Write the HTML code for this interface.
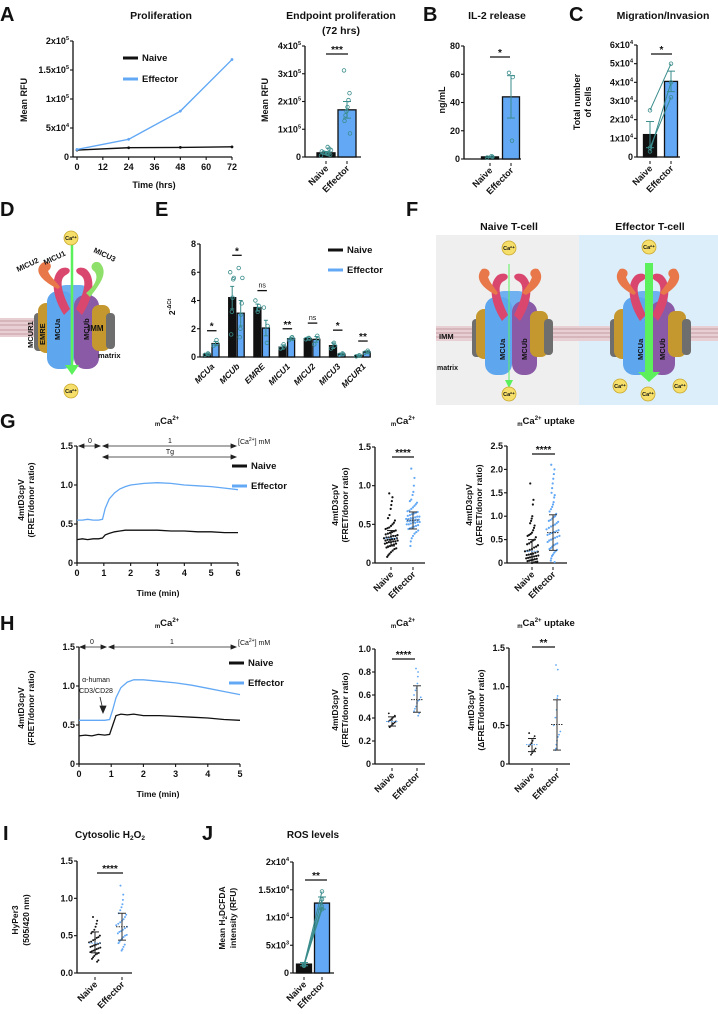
<!DOCTYPE html>
<html><head><meta charset="utf-8">
<style>
html,body{margin:0;padding:0;background:#fff;}
svg{display:block;font-family:"Liberation Sans",sans-serif;}
text{font-weight:bold;fill:#111;}
</style></head>
<body>
<svg id="fig" width="718" height="1014" viewBox="0 0 718 1014" xmlns="http://www.w3.org/2000/svg">
<defs>
<g id="complex">
  <rect x="-38" y="-14" width="11" height="38" rx="4" fill="#6e6e6e"/>
  <rect x="-34" y="-24" width="24" height="50" rx="8" fill="#c4982e"/>
  <rect x="-18" y="-42" width="38" height="30" rx="12" fill="#6fb0f0"/>
  <rect x="-25" y="-36" width="27" height="78" rx="11" fill="#5ea6ee"/>
  <rect x="2" y="-32" width="25" height="74" rx="11" fill="#8a5aa6"/>
  <rect x="20" y="-22" width="18" height="46" rx="7" fill="#c4982e"/>
  <rect x="34" y="-14" width="9" height="36" rx="4" fill="#6e6e6e"/>
  <path d="M-8,-12 C-20,-30 -22,-50 -12,-58 C-4,-62 2,-56 -6,-52 C-14,-48 -10,-34 -2,-18 Z" fill="#d9476e"/>
  <path d="M10,-12 C22,-30 24,-50 14,-58 C6,-62 0,-56 8,-52 C16,-48 12,-34 4,-18 Z" fill="#d9476e"/>
</g>
</defs>
<!-- Panel letters -->
<text x="0" y="21" font-size="20">A</text>
<text x="423" y="21" font-size="20">B</text>
<text x="569" y="21" font-size="20">C</text>
<text x="0" y="216" font-size="20">D</text>
<text x="155" y="216" font-size="20">E</text>
<text x="406" y="216" font-size="20">F</text>
<text x="0" y="428" font-size="20">G</text>
<text x="0" y="630" font-size="20">H</text>
<text x="3" y="840" font-size="20">I</text>
<text x="202" y="840" font-size="20">J</text>

<!-- Titles -->
<text x="161" y="19" font-size="10.5" text-anchor="middle">Proliferation</text>
<text x="341" y="19" font-size="10.5" text-anchor="middle">Endpoint proliferation</text>
<text x="341" y="34" font-size="10.5" text-anchor="middle">(72 hrs)</text>
<text x="497" y="19" font-size="10.5" text-anchor="middle">IL-2 release</text>
<text x="663" y="19" font-size="10.5" text-anchor="middle">Migration/Invasion</text>
<text x="509" y="230" font-size="10.5" text-anchor="middle">Naive T-cell</text>
<text x="650" y="230" font-size="10.5" text-anchor="middle">Effector T-cell</text>
<text x="167" y="424" font-size="9.5" text-anchor="middle"><tspan font-size="6" dy="2">m</tspan><tspan dy="-2">Ca</tspan><tspan font-size="6" dy="-4">2+</tspan></text>
<text x="403" y="424" font-size="9.5" text-anchor="middle"><tspan font-size="6" dy="2">m</tspan><tspan dy="-2">Ca</tspan><tspan font-size="6" dy="-4">2+</tspan></text>
<text x="546" y="424" font-size="9.5" text-anchor="middle"><tspan font-size="6" dy="2">m</tspan><tspan dy="-2">Ca</tspan><tspan font-size="6" dy="-4">2+</tspan><tspan dy="4"> uptake</tspan></text>
<text x="167" y="626" font-size="9.5" text-anchor="middle"><tspan font-size="6" dy="2">m</tspan><tspan dy="-2">Ca</tspan><tspan font-size="6" dy="-4">2+</tspan></text>
<text x="403" y="626" font-size="9.5" text-anchor="middle"><tspan font-size="6" dy="2">m</tspan><tspan dy="-2">Ca</tspan><tspan font-size="6" dy="-4">2+</tspan></text>
<text x="546" y="626" font-size="9.5" text-anchor="middle"><tspan font-size="6" dy="2">m</tspan><tspan dy="-2">Ca</tspan><tspan font-size="6" dy="-4">2+</tspan><tspan dy="4"> uptake</tspan></text>
<text x="110" y="838" font-size="10" text-anchor="middle">Cytosolic H<tspan font-size="6.5" dy="2">2</tspan><tspan dy="-2">O</tspan><tspan font-size="6.5" dy="2">2</tspan></text>
<text x="313" y="838" font-size="10" text-anchor="middle">ROS levels</text>

<!-- Axis titles -->
<text transform="translate(27,100) rotate(-90)" font-size="9" text-anchor="middle">Mean RFU</text>
<text x="154" y="188" font-size="9" text-anchor="middle">Time (hrs)</text>
<text transform="translate(268,100) rotate(-90)" font-size="9" text-anchor="middle">Mean RFU</text>
<text transform="translate(445,100) rotate(-90)" font-size="9" text-anchor="middle">ng/mL</text>
<text transform="translate(580,102) rotate(-90)" font-size="9" text-anchor="middle">Total number</text>
<text transform="translate(591,102) rotate(-90)" font-size="9" text-anchor="middle">of cells</text>
<text transform="translate(175,307) rotate(-90)" font-size="8.5" text-anchor="middle">2<tspan font-size="5.5" dy="-4">-ΔCt</tspan></text>
<g font-size="8.5" text-anchor="middle">
<text transform="translate(24,500) rotate(-90)">4mtD3cpV</text>
<text transform="translate(34,500) rotate(-90)">(FRET/donor ratio)</text>
<text x="158" y="596">Time (min)</text>
<text transform="translate(338,505) rotate(-90)">4mtD3cpV</text>
<text transform="translate(348,505) rotate(-90)">(FRET/donor ratio)</text>
<text transform="translate(472,505) rotate(-90)">4mtD3cpV</text>
<text transform="translate(482,505) rotate(-90)">(ΔFRET/donor ratio)</text>
<text transform="translate(24,708) rotate(-90)">4mtD3cpV</text>
<text transform="translate(34,708) rotate(-90)">(FRET/donor ratio)</text>
<text x="158" y="797">Time (min)</text>
<text transform="translate(338,710) rotate(-90)">4mtD3cpV</text>
<text transform="translate(348,710) rotate(-90)">(FRET/donor ratio)</text>
<text transform="translate(474,710) rotate(-90)">4mtD3cpV</text>
<text transform="translate(484,710) rotate(-90)">(ΔFRET/donor ratio)</text>
<text transform="translate(18,920) rotate(-90)">HyPer3</text>
<text transform="translate(29,920) rotate(-90)">(505/420 nm)</text>
<text transform="translate(225,918) rotate(-90)">Mean H<tspan font-size="6" dy="2">2</tspan><tspan dy="-2">DCFDA</tspan></text>
<text transform="translate(236,918) rotate(-90)">intensity (RFU)</text>
</g>

<!-- Panel D diagram -->
<g>
  <rect x="0" y="318" width="112" height="19" fill="#e8cfd3"/>
  <g stroke="#b88a93" stroke-width="0.8"><line x1="0" y1="321" x2="112" y2="321"/><line x1="0" y1="325" x2="112" y2="325"/><line x1="0" y1="330" x2="112" y2="330"/><line x1="0" y1="334" x2="112" y2="334"/></g>
  <g transform="translate(72,327)">
    <use href="#complex"/>
    <path d="M-14,-38 C-28,-45 -40,-55 -30,-64 C-22,-68 -18,-60 -24,-56 C-22,-50 -16,-46 -12,-40 Z" fill="#e8784a"/>
    <path d="M18,-30 C30,-45 36,-55 28,-64 C22,-68 16,-60 22,-56 C28,-50 22,-40 14,-34 Z" fill="#8fe06a"/>
  </g>
  <text transform="translate(33,348) rotate(-90)" font-size="7.5" fill="#222">MCUR1</text>
  <text transform="translate(45,345) rotate(-90)" font-size="7.5">EMRE</text>
  <text transform="translate(60,340) rotate(-90)" font-size="7.5">MCUa</text>
  <text transform="translate(89,340) rotate(-90)" font-size="7.5">MCUb</text>
  <text x="88" y="331" font-size="8">IMM</text>
  <text x="98" y="358" font-size="7.5">matrix</text>
  <text transform="translate(18,272) rotate(-25)" font-size="7.5">MICU2</text>
  <text transform="translate(45,265) rotate(-25)" font-size="7.5">MICU1</text>
  <text transform="translate(93,252) rotate(25)" font-size="7.5">MICU3</text>
  <line x1="72" y1="245" x2="72" y2="366" stroke="#5cf05c" stroke-width="2.5"/>
  <polygon points="65,365 79,365 72,375" fill="#5cf05c"/>
  <circle cx="71" cy="238" r="7" fill="#f5de6a" stroke="#c9a92e" stroke-width="0.8"/>
  <text x="71" y="240" font-size="5.5" text-anchor="middle">Ca²⁺</text>
  <circle cx="71" cy="391" r="7" fill="#f5de6a" stroke="#c9a92e" stroke-width="0.8"/>
  <text x="71" y="393" font-size="5.5" text-anchor="middle">Ca²⁺</text>
</g>

<!-- Panel F diagram -->
<g>
  <rect x="436" y="235" width="143" height="170" fill="#efefef"/>
  <rect x="579" y="235" width="139" height="170" fill="#dceefa"/>
  <rect x="436" y="326" width="282" height="15" fill="#e8cfd3"/>
  <g stroke="#b88a93" stroke-width="0.8"><line x1="436" y1="329" x2="718" y2="329"/><line x1="436" y1="333" x2="718" y2="333"/><line x1="436" y1="337" x2="718" y2="337"/></g>
  <g transform="translate(510,333)"><use href="#complex"/>
    <path d="M-14,-38 C-28,-45 -36,-55 -28,-64 C-22,-66 -18,-60 -22,-56 C-20,-50 -16,-46 -12,-40 Z" fill="#e8784a"/>
    <path d="M16,-38 C28,-45 36,-55 28,-64 C22,-66 18,-60 22,-56 C20,-50 16,-46 12,-40 Z" fill="#e8784a"/></g>
  <g transform="translate(648,333)"><use href="#complex"/>
    <path d="M-14,-38 C-28,-45 -36,-55 -28,-64 C-22,-66 -18,-60 -22,-56 C-20,-50 -16,-46 -12,-40 Z" fill="#e8784a"/>
    <path d="M16,-38 C28,-45 36,-55 28,-64 C22,-66 18,-60 22,-56 C20,-50 16,-46 12,-40 Z" fill="#e8784a"/></g>
  <text transform="translate(505,360) rotate(-90)" font-size="7.5">MCUa</text>
  <text transform="translate(527,360) rotate(-90)" font-size="7.5">MCUb</text>
  <text transform="translate(643,360) rotate(-90)" font-size="7.5">MCUa</text>
  <text transform="translate(665,360) rotate(-90)" font-size="7.5">MCUb</text>
  <text x="439" y="339" font-size="7.5">IMM</text>
  <text x="437" y="370" font-size="7">matrix</text>
  <line x1="509" y1="264" x2="509" y2="382" stroke="#5cf05c" stroke-width="1"/>
  <polygon points="505,380 513,380 509,388" fill="#5cf05c"/>
  <rect x="645" y="263" width="8" height="110" fill="#5cf05c"/>
  <polygon points="638,372 660,372 649,382" fill="#5cf05c"/>
  <g font-size="5.5" text-anchor="middle">
  <circle cx="509" cy="248" r="7" fill="#f5de6a" stroke="#c9a92e" stroke-width="0.8"/><text x="509" y="250">Ca²⁺</text>
  <circle cx="509" cy="394" r="7" fill="#f5de6a" stroke="#c9a92e" stroke-width="0.8"/><text x="509" y="396">Ca²⁺</text>
  <circle cx="649" cy="247" r="7" fill="#f5de6a" stroke="#c9a92e" stroke-width="0.8"/><text x="649" y="249">Ca²⁺</text>
  <circle cx="620" cy="386" r="7" fill="#f5de6a" stroke="#c9a92e" stroke-width="0.8"/><text x="620" y="388">Ca²⁺</text>
  <circle cx="648" cy="394" r="7" fill="#f5de6a" stroke="#c9a92e" stroke-width="0.8"/><text x="648" y="396">Ca²⁺</text>
  <circle cx="680" cy="386" r="7" fill="#f5de6a" stroke="#c9a92e" stroke-width="0.8"/><text x="680" y="388">Ca²⁺</text>
  </g>
</g>

<!-- G/H arrow annotations -->
<g stroke="#222" stroke-width="0.8" fill="#222">
  <line x1="79" y1="446" x2="100" y2="446"/><polygon points="79,446 84,444 84,448"/><polygon points="100,446 95,444 95,448"/>
  <line x1="103" y1="446" x2="236" y2="446"/><polygon points="103,446 108,444 108,448"/><polygon points="236,446 231,444 231,448"/>
  <line x1="103" y1="457" x2="236" y2="457"/><polygon points="103,457 108,455 108,459"/><polygon points="236,457 231,455 231,459"/>
</g>
<g font-size="7">
<text x="90" y="443" text-anchor="middle" style="font-weight:normal">0</text>
<text x="170" y="443" text-anchor="middle" style="font-weight:normal">1</text>
<text x="170" y="454" text-anchor="middle" style="font-weight:normal">Tg</text>
<text x="238" y="444" style="font-weight:normal">[Ca<tspan font-size="5" dy="-3">2+</tspan><tspan dy="3">] mM</tspan></text>
</g>
<g stroke="#222" stroke-width="0.8" fill="#222">
  <line x1="80" y1="647" x2="106" y2="647"/><polygon points="80,647 85,645 85,649"/><polygon points="106,647 101,645 101,649"/>
  <line x1="109" y1="647" x2="236" y2="647"/><polygon points="109,647 114,645 114,649"/><polygon points="236,647 231,645 231,649"/>
  <line x1="100" y1="697" x2="103" y2="710"/><polygon points="103,713 100,706 106,706"/>
</g>
<g font-size="7">
<text x="92" y="644" text-anchor="middle" style="font-weight:normal">0</text>
<text x="172" y="644" text-anchor="middle" style="font-weight:normal">1</text>
<text x="238" y="645" style="font-weight:normal">[Ca<tspan font-size="5" dy="-3">2+</tspan><tspan dy="3">] mM</tspan></text>
<text x="96" y="682" text-anchor="middle" style="font-weight:normal">α-human</text>
<text x="96" y="693" text-anchor="middle" style="font-weight:normal">CD3/CD28</text>
</g>

<g id="plots"></g>
</svg>
<script>
// ---------- data ----------
const aTimes=[0,24,48,72];
const aNaive=[12000,16000,16500,17500];
const aEffector=[13000,30500,79000,168000];
const aTicksX=[0,12,24,36,48,60,72];

const a2Means=[15000,170000];
const a2Err=[5000,30000];
const a2NaiveDots=[5000,8000,10000,12000,14000,16000,20000,25000,30000,36000];
const a2EffDots=[312000,230000,205000,180000,165000,150000,130000,85000];

const bMeans=[1.5,44];
const bErr=[0.5,15];
const bEffDots=[61,58,13];
const bNaiveDots=[1,1.5,2];

const cNaive=[25000,5000,3000];
const cEffector=[50000,32000,40000];
const cMeans=[12000,40500];
const cErr=[7000,5500];

const eCats=['MCUa','MCUb','EMRE','MICU1','MICU2','MICU3','MCUR1'];
const eNaive=[0.2,4.2,3.5,0.7,1.3,0.8,0.1];
const eEffector=[0.95,3.1,2.05,1.3,1.25,0.2,0.35];
const eNaiveErr=[0.05,0.8,0.25,0.15,0.1,0.2,0.03];
const eEffErr=[0.15,0.9,0.55,0.1,0.2,0.05,0.08];
const eSigText=['*','*','ns','**','ns','*','**'];
const eSigLevel=[1.86,7.2,4.7,2.0,2.4,1.9,1.13];
const eNaiveDots=[[0.15,0.2,0.25],[6.0,5.6,5.5,4.2,3.2,1.6],[4.0,3.6,3.4,3.2],[0.6,0.75,0.9],[1.25,1.3,1.35],[0.6,0.8,1.0],[0.05,0.1,0.12]];
const eEffDots=[[0.8,0.95,1.2],[6.3,5.6,3.8,3.0,2.0,1.4],[3.5,2.2,1.0],[1.2,1.3,1.4],[0.9,1.3,1.5],[0.15,0.2,0.25],[0.3,0.35,0.45]];

const gTimes=[0,0.2,0.4,0.6,0.8,0.95,1.05,1.2,1.4,1.6,1.8,2,2.5,3,3.5,4,4.5,5,5.5,6];
const gNaive=[0.3,0.31,0.3,0.31,0.31,0.32,0.36,0.38,0.4,0.41,0.42,0.42,0.42,0.42,0.41,0.41,0.4,0.4,0.39,0.39];
const gEffector=[0.55,0.55,0.56,0.55,0.55,0.56,0.7,0.82,0.9,0.95,0.98,1.0,1.02,1.03,1.02,1.0,0.99,0.98,0.96,0.94];

const hTimes=[0,0.2,0.4,0.6,0.8,0.95,1.05,1.15,1.3,1.5,1.7,2,2.5,3,3.5,4,4.5,5];
const hNaive=[0.36,0.37,0.36,0.38,0.37,0.38,0.5,0.62,0.64,0.63,0.64,0.62,0.62,0.61,0.6,0.59,0.57,0.56];
const hEffector=[0.56,0.56,0.56,0.56,0.56,0.57,0.7,0.85,0.98,1.05,1.08,1.08,1.06,1.04,1.01,0.97,0.93,0.89];

const g1Naive=[0.9,0.85,0.8,0.75,0.7,0.62,0.58,0.55,0.52,0.5,0.48,0.46,0.45,0.44,0.42,0.41,0.4,0.39,0.38,0.37,0.36,0.35,0.35,0.34,0.33,0.33,0.32,0.32,0.31,0.31,0.3,0.3,0.29,0.29,0.28,0.28,0.27,0.27,0.26,0.25,0.25,0.24,0.23,0.22,0.21,0.2,0.19,0.18,0.16,0.14,0.12,0.1,0.08];
const g1Eff=[1.22,1.1,1.0,0.92,0.88,0.82,0.8,0.78,0.76,0.74,0.72,0.7,0.68,0.67,0.66,0.65,0.64,0.63,0.62,0.61,0.6,0.6,0.59,0.58,0.58,0.57,0.57,0.56,0.56,0.55,0.55,0.54,0.54,0.53,0.53,0.52,0.52,0.51,0.5,0.5,0.49,0.48,0.47,0.46,0.45,0.44,0.42,0.4,0.38,0.35,0.32,0.28,0.22];
const g1Mean=[0.32,0.555], g1Lo=[0.22,0.44], g1Hi=[0.42,0.66];

const g2Naive=[1.7,1.35,1.25,1.0,0.95,0.9,0.85,0.8,0.75,0.7,0.65,0.62,0.6,0.58,0.55,0.5,0.48,0.45,0.42,0.4,0.38,0.35,0.33,0.3,0.28,0.26,0.25,0.24,0.22,0.2,0.19,0.18,0.17,0.16,0.15,0.14,0.13,0.12,0.11,0.1,0.09,0.08,0.07,0.06,0.05,0.04,0.03,0.02,0.01,0.0];
const g2Eff=[2.1,2.0,1.9,1.8,1.7,1.6,1.5,1.45,1.4,1.3,1.25,1.2,1.15,1.1,1.05,1.0,0.98,0.95,0.92,0.9,0.88,0.85,0.82,0.8,0.78,0.75,0.72,0.7,0.68,0.66,0.64,0.62,0.6,0.58,0.56,0.54,0.52,0.5,0.48,0.45,0.42,0.4,0.38,0.35,0.32,0.3,0.28,0.25,0.22,0.18,0.15,0.1,0.05,0.02];
const g2Mean=[0.25,0.65], g2Lo=[0.0,0.27], g2Hi=[0.5,1.03];

const h1Naive=[0.44,0.42,0.41,0.4,0.39,0.38,0.37,0.37,0.36,0.35,0.34,0.33,0.32];
const h1Eff=[0.83,0.8,0.76,0.7,0.66,0.64,0.6,0.58,0.56,0.55,0.53,0.5,0.48,0.46,0.44,0.42];
const h1Mean=[0.37,0.56], h1Lo=[0.33,0.45], h1Hi=[0.41,0.68];

const h2Naive=[0.4,0.36,0.33,0.3,0.27,0.25,0.23,0.2,0.18,0.16,0.14,0.12];
const h2Eff=[1.28,1.22,0.88,0.85,0.7,0.6,0.5,0.42,0.38,0.35,0.3,0.25,0.2,0.18];
const h2Mean=[0.25,0.51], h2Lo=[0.16,0.18], h2Hi=[0.33,0.83];

const iNaive=[0.75,0.7,0.66,0.62,0.58,0.55,0.53,0.5,0.48,0.47,0.45,0.44,0.42,0.41,0.4,0.39,0.38,0.37,0.36,0.35,0.34,0.33,0.32,0.31,0.3,0.29,0.28,0.27,0.26,0.25,0.23,0.21,0.19,0.17,0.15];
const iEff=[1.17,1.05,0.98,0.92,0.88,0.84,0.8,0.78,0.75,0.72,0.7,0.68,0.66,0.64,0.62,0.6,0.58,0.56,0.55,0.53,0.51,0.5,0.48,0.46,0.44,0.42,0.4,0.38,0.35,0.32,0.3];
const iMean=[0.4,0.62], iLo=[0.27,0.44], iHi=[0.55,0.8];

const jNaive=[1500,1400,1600,1300];
const jEffector=[14700,13300,12000,11500];
const jMeans=[1600,12600];
const jErr=[300,1100];

const groupLabels=['Naive','Effector'];

// ---------- helpers ----------
const NS='http://www.w3.org/2000/svg';
const root=document.getElementById('plots');
const BLUE='#62a8f5', DARK='#111', TEAL='#3a8c8c';
function lin(d0,d1,r0,r1){return v=>r0+(v-d0)*(r1-r0)/(d1-d0);}
function mk(tag,attrs,parent){const e=document.createElementNS(NS,tag);for(const k in attrs)e.setAttribute(k,attrs[k]);(parent||root).appendChild(e);return e;}
function tickText(x,y,label,anchor,size){
  const t=mk('text',{x:x,y:y,'font-size':size||9,'text-anchor':anchor||'end'});
  
  
  const s=String(label);
  if(s.indexOf('^')>=0){const p=s.split('^');t.textContent=p[0];const sp=mk('tspan',{'font-size':5.5,dy:-4},t);sp.textContent=p[1];}
  else t.textContent=s;
  return t;
}
function yAxis(name,x,yTop,yBot,scale,ticks,labels){
  const g=mk('g',{});
  
  
  mk('line',{x1:x,y1:yTop,x2:x,y2:yBot,stroke:DARK,'stroke-width':1.3},g);
  ticks.forEach((v,i)=>{const y=scale(v);mk('line',{x1:x-3,y1:y,x2:x,y2:y,stroke:DARK,'stroke-width':1.1},g);tickText(x-4,y+3,labels?labels[i]:v,'end');});
}
function xBase(name,x0,x1,y){
  const l=mk('line',{x1:x0,y1:y,x2:x1,y2:y,stroke:DARK,'stroke-width':1.3});
  
  
}
function catLabels(xs,y,labels,italic){
  xs.forEach((x,i)=>{
    const t=mk('text',{transform:`translate(${x+3},${y}) rotate(-45)`,'font-size':9,'text-anchor':'end','font-style':italic?'italic':'normal'});
    
    
    t.textContent=labels[i];
    mk('line',{x1:x,y1:y-8,x2:x,y2:y-5,stroke:DARK,'stroke-width':1});
  });
}
function sig(x0,x1,y,str){
  const l=mk('line',{x1:x0,y1:y,x2:x1,y2:y,stroke:DARK,'stroke-width':1.3});
  
  
  const t=mk('text',{x:(x0+x1)/2,y:y-(str==='ns'?3:1),'font-size':str==='ns'?7:10,'text-anchor':'middle'});
  if(str==='ns')t.setAttribute('style','font-weight:normal');
  
  
  t.textContent=str;
}
function bar(cx,w,y0,y,fill,name){
  const r=mk('rect',{x:cx-w/2,y:Math.min(y,y0),width:w,height:Math.abs(y0-y),fill:fill,stroke:DARK,'stroke-width':1.3});
  
  
}
function errBar(cx,yLo,yHi,cap,color,name){
  const g=mk('g',{stroke:color||DARK,'stroke-width':1});
  
  
  mk('line',{x1:cx,y1:yLo,x2:cx,y2:yHi},g);
  mk('line',{x1:cx-cap,y1:yHi,x2:cx+cap,y2:yHi},g);
  mk('line',{x1:cx-cap,y1:yLo,x2:cx+cap,y2:yLo},g);
}
function openDot(x,y,name){
  const c=mk('circle',{cx:x,cy:y,r:1.8,fill:'none',stroke:TEAL,'stroke-width':0.8});
  
  
}
function jitter(i,w){return (((i*37)%13)-6)/6*w;}
function scatterPanel(p){
  const ys=lin(0,p.max,p.y0,p.yTop);
  yAxis(p.name+'-y-axis',p.ax,p.yTop,p.y0,ys,p.ticks,p.tickLabels);
  xBase(p.name+'-x-axis',p.ax,p.axEnd,p.y0);
  const sets=[p.naive,p.eff], cols=[DARK,BLUE];
  sets.forEach((arr,k)=>{
    arr.forEach((v,i)=>{
      const d=Math.abs(v-p.mean[k]);
      const w=p.jw*Math.max(0.25,1-d/(p.max*0.35));
      const c=mk('circle',{cx:p.xs[k]+jitter(i,w),cy:ys(v),r:p.r||1.1,fill:cols[k]});
      
      
    });
  });
  [0,1].forEach(k=>{
    errBar(p.xs[k],ys(p.lo[k]),ys(p.hi[k]),4,k?'#333':'#222',k?'effector-sd':'naive-sd');
    const m=mk('line',{x1:p.xs[k]-6,y1:ys(p.mean[k]),x2:p.xs[k]+6,y2:ys(p.mean[k]),stroke:k?'#333':BLUE,'stroke-width':1,'stroke-dasharray':'1.5,1'});
    
    
  });
  catLabels(p.xs,p.y0+12,groupLabels,false);
  sig(p.sig[0],p.sig[1],p.sig[2],p.sig[3]);
}
function tracePanel(p){
  const xs=lin(0,p.tmax,p.ax,p.axEnd), ys=lin(0,1.5,p.y0,p.yTop);
  yAxis(p.name+'-y-axis',p.ax,p.yTop,p.y0,ys,[0,0.5,1.0,1.5],['0','0.5','1.0','1.5']);
  xBase(p.name+'-x-axis',p.ax,p.axEnd,p.y0);
  for(let t=0;t<=p.tmax;t++){mk('line',{x1:xs(t),y1:p.y0,x2:xs(t),y2:p.y0+3,stroke:DARK,'stroke-width':1.1});tickText(xs(t),p.y0+13,t,'middle');}
  [[p.naive,DARK,'naive-trace'],[p.eff,BLUE,'effector-trace']].forEach(s=>{
    const d=p.times.map((t,i)=>(i?'L':'M')+xs(t).toFixed(1)+','+ys(s[0][i]).toFixed(1)).join(' ');
    const path=mk('path',{d:d,fill:'none',stroke:s[1],'stroke-width':1.3});
    
    
  });
  legend(p.legX,p.legY,20);
}
function legend(x,y,gap){
  [['Naive',DARK],['Effector',BLUE]].forEach((s,i)=>{
    const l=mk('line',{x1:x,y1:y+i*gap-3,x2:x+15,y2:y+i*gap-3,stroke:s[1],'stroke-width':3});
    
    
    const t=mk('text',{x:x+19,y:y+i*gap,'font-size':9.5});
    
    
    t.textContent=s[0];
  });
}

// ---------- Panel A line ----------
(function(){
  const xs=lin(0,72,77,232), ys=lin(0,2e5,157,41);
  yAxis('a-y-axis',73,41,157,ys,[0,5e4,1e5,1.5e5,2e5],['0','5x10^4','1x10^5','1.5x10^5','2x10^5']);
  xBase('a-x-axis',73,232,157);
  aTicksX.forEach(t=>{mk('line',{x1:xs(t),y1:157,x2:xs(t),y2:160,stroke:DARK,'stroke-width':1.1});tickText(xs(t),170,t,'middle');});
  [[aNaive,DARK,'naive-line'],[aEffector,BLUE,'effector-line']].forEach(s=>{
    const d=aTimes.map((t,i)=>(i?'L':'M')+xs(t)+','+ys(s[0][i])).join(' ');
    const p=mk('path',{d:d,fill:'none',stroke:s[1],'stroke-width':1.4});
    
    
    aTimes.forEach((t,i)=>{const c=mk('circle',{cx:xs(t),cy:ys(s[0][i]),r:1.4,fill:s[1]});
      
      });
  });
  legend(123,61,21);
})();

// ---------- Panel A bar ----------
(function(){
  const ys=lin(0,4e5,157,46), xs=[326,347];
  yAxis('a2-y-axis',305,46,157,ys,[0,1e5,2e5,3e5,4e5],['0','1x10^5','2x10^5','3x10^5','4x10^5']);
  xBase('a2-x-axis',305,361,157);
  bar(xs[0],18,157,ys(a2Means[0]),DARK,'bar-naive');
  bar(xs[1],18,157,ys(a2Means[1]),BLUE,'bar-effector');
  a2NaiveDots.forEach((v,i)=>openDot(xs[0]+jitter(i,5),ys(v),'naive-dot'));
  a2EffDots.forEach((v,i)=>openDot(xs[1]+jitter(i,3),ys(v),'effector-dot'));
  [0,1].forEach(k=>errBar(xs[k],ys(a2Means[k]-a2Err[k]),ys(a2Means[k]+a2Err[k]),4,TEAL,'error-bar'));
  catLabels(xs,169,groupLabels,false);
  sig(326,348,54,'***');
})();

// ---------- Panel B ----------
(function(){
  const ys=lin(0,80,159,46), xs=[490,511];
  yAxis('b-y-axis',464,46,159,ys,[0,20,40,60,80]);
  xBase('b-x-axis',464,521,159);
  bar(xs[0],17,159,ys(bMeans[0]),DARK,'bar-naive');
  bar(xs[1],17,159,ys(bMeans[1]),BLUE,'bar-effector');
  bNaiveDots.forEach((v,i)=>openDot(xs[0]+jitter(i,3),ys(v),'naive-dot'));
  bEffDots.forEach((v,i)=>openDot(xs[1]+jitter(i,2),ys(v),'effector-dot'));
  [0,1].forEach(k=>errBar(xs[k],ys(bMeans[k]-bErr[k]),ys(bMeans[k]+bErr[k]),4,TEAL,'error-bar'));
  catLabels(xs,171,groupLabels,false);
  sig(490,510,57,'*');
})();

// ---------- Panel C ----------
(function(){
  const ys=lin(0,6e4,157,45), xs=[650,671];
  yAxis('c-y-axis',637,45,157,ys,[0,1e4,2e4,3e4,4e4,5e4,6e4],['0','1x10^4','2x10^4','3x10^4','4x10^4','5x10^4','6x10^4']);
  xBase('c-x-axis',637,680,157);
  bar(xs[0],13,157,ys(cMeans[0]),DARK,'bar-naive');
  bar(xs[1],13,157,ys(cMeans[1]),BLUE,'bar-effector');
  [0,1].forEach(k=>errBar(xs[k],ys(cMeans[k]-cErr[k]),ys(cMeans[k]+cErr[k]),4,TEAL,'error-bar'));
  cNaive.forEach((v,i)=>{
    const l=mk('line',{x1:xs[0],y1:ys(v),x2:xs[1],y2:ys(cEffector[i]),stroke:TEAL,'stroke-width':1});
    
    
    openDot(xs[0],ys(v),'naive-dot');openDot(xs[1],ys(cEffector[i]),'effector-dot');
  });
  catLabels(xs,169,groupLabels,false);
  sig(651,672,54,'*');
})();

// ---------- Panel E ----------
(function(){
  const ys=lin(0,8,357,244);
  const gx=i=>207+i*25.2;
  yAxis('e-y-axis',200,244,357,ys,[0,2,4,6,8]);
  xBase('e-x-axis',200,369,357);
  eCats.forEach((c,i)=>{
    const xn=gx(i), xe=gx(i)+8.5;
    bar(xn,7,357,ys(eNaive[i]),DARK,'bar-naive-'+c.toLowerCase());
    bar(xe,7,357,ys(eEffector[i]),BLUE,'bar-effector-'+c.toLowerCase());
    errBar(xn,ys(eNaive[i]-eNaiveErr[i]),ys(eNaive[i]+eNaiveErr[i]),2,TEAL,'error-bar');
    errBar(xe,ys(eEffector[i]-eEffErr[i]),ys(eEffector[i]+eEffErr[i]),2,TEAL,'error-bar');
    eNaiveDots[i].forEach((v,j)=>openDot(xn+jitter(j,2),ys(v),'naive-dot'));
    eEffDots[i].forEach((v,j)=>openDot(xe+jitter(j,2),ys(v),'effector-dot'));
    sig(xn,xe+1,ys(eSigLevel[i]),eSigText[i]);
  });
  const cx=eCats.map((c,i)=>gx(i)+4);
  cx.forEach((x,i)=>{
    const t=mk('text',{transform:`translate(${x+4},${367}) rotate(-45)`,'font-size':8.5,'text-anchor':'end','font-style':'italic'});
    
    
    t.textContent=eCats[i];
  });
  legend(328,253,20);
})();

// ---------- G ----------
tracePanel({name:'g',ax:77,axEnd:238,y0:563,yTop:446,tmax:6,times:gTimes,naive:gNaive,eff:gEffector,legX:232,legY:469});
scatterPanel({name:'g1',ax:375,axEnd:425,y0:563,yTop:447,max:1.5,ticks:[0,0.5,1.0,1.5],tickLabels:['0','0.5','1.0','1.5'],xs:[391,413],naive:g1Naive,eff:g1Eff,mean:g1Mean,lo:g1Lo,hi:g1Hi,jw:7,sig:[392,414,457,'****']});
scatterPanel({name:'g2',ax:507,axEnd:567,y0:563,yTop:446,max:2.5,ticks:[0,0.5,1.0,1.5,2.0,2.5],tickLabels:['0','0.5','1.0','1.5','2.0','2.5'],xs:[532,553],naive:g2Naive,eff:g2Eff,mean:g2Mean,lo:g2Lo,hi:g2Hi,jw:7,sig:[532,555,454,'****']});

// ---------- H ----------
tracePanel({name:'h',ax:79,axEnd:240,y0:764,yTop:647,tmax:5,times:hTimes,naive:hNaive,eff:hEffector,legX:229,legY:666});
scatterPanel({name:'h1',ax:375,axEnd:425,y0:764,yTop:649,max:1.0,ticks:[0,0.2,0.4,0.6,0.8,1.0],tickLabels:['0','0.2','0.4','0.6','0.8','1.0'],xs:[392,417],naive:h1Naive,eff:h1Eff,mean:h1Mean,lo:h1Lo,hi:h1Hi,jw:4,r:0.9,sig:[392,415,659,'****']});
scatterPanel({name:'h2',ax:509,axEnd:570,y0:764,yTop:648,max:1.5,ticks:[0,0.5,1.0,1.5],tickLabels:['0','0.5','1.0','1.5'],xs:[532,557],naive:h2Naive,eff:h2Eff,mean:h2Mean,lo:h2Lo,hi:h2Hi,jw:4,r:0.9,sig:[532,555,647,'**']});

// ---------- I ----------
scatterPanel({name:'i',ax:77,axEnd:132,y0:973,yTop:861,max:1.5,ticks:[0,0.5,1.0,1.5],tickLabels:['0.0','0.5','1.0','1.5'],xs:[95,122],naive:iNaive,eff:iEff,mean:iMean,lo:iLo,hi:iHi,jw:6,r:1,sig:[97,123,873,'****']});

// ---------- J ----------
(function(){
  const ys=lin(0,2e4,973,862), xs=[304,322];
  yAxis('j-y-axis',293,862,973,ys,[0,5e3,1e4,1.5e4,2e4],['0','5x10^3','1x10^4','1.5x10^4','2x10^4']);
  xBase('j-x-axis',293,334,973);
  bar(xs[0],15,973,ys(jMeans[0]),DARK,'bar-naive');
  bar(xs[1],15,973,ys(jMeans[1]),BLUE,'bar-effector');
  [0,1].forEach(k=>errBar(xs[k],ys(jMeans[k]-jErr[k]),ys(jMeans[k]+jErr[k]),4,TEAL,'error-bar'));
  jNaive.forEach((v,i)=>{
    const l=mk('line',{x1:xs[0],y1:ys(v),x2:xs[1],y2:ys(jEffector[i]),stroke:TEAL,'stroke-width':1});
    
    
    openDot(xs[0],ys(v),'naive-dot');openDot(xs[1],ys(jEffector[i]),'effector-dot');
  });
  catLabels(xs,985,groupLabels,false);
  sig(305,327,880,'**');
})();
</script>
</body></html>
